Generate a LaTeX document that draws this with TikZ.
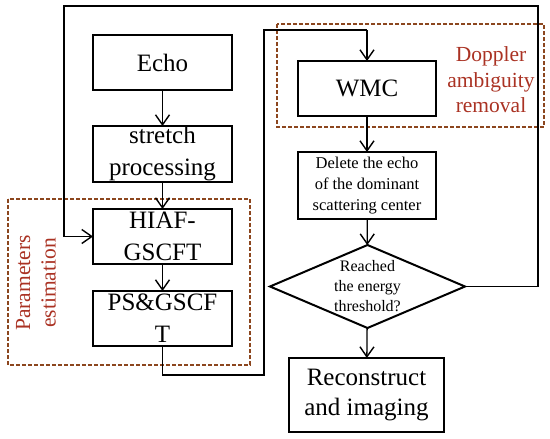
\documentclass[tikz,border=0pt]{standalone}
\usepackage{fontspec}
\setmainfont{Liberation Serif}
\usetikzlibrary{arrows.meta,shapes.geometric}
\definecolor{dashbrown}{RGB}{140,70,30}
\definecolor{labred}{RGB}{170,50,35}
\begin{document}
\begin{tikzpicture}[x=1pt,y=-1pt,
  box/.style={draw,line width=2pt,inner sep=0pt,outer sep=0pt,align=center},
  big/.style={font=\fontsize{25}{32}\selectfont},
  small/.style={font=\fontsize{16.5}{21}\selectfont},
  conn/.style={line width=1.3pt,-{Straight Barb[length=10pt,width=14pt,line width=1.4pt]}},
  loopline/.style={line width=1.3pt},
  grp/.style={draw=dashbrown,dashed,line width=1.2pt,dash pattern=on 4pt off 2pt},
  lab/.style={text=labred,align=center,font=\fontsize{21.5}{25.5}\selectfont}]
\useasboundingbox (0,0) rectangle (550,439);
% groups
\draw[grp] (8,199) rectangle (250,365);
\draw[grp] (277,24) rectangle (544,127);
\node[lab,rotate=90] (plab) at (36,283) {Parameters\\estimation};
\node[lab] (dlab) at (491,80) {Doppler\\ambiguity\\removal};
% left column
\node[box,big,minimum width=139pt,minimum height=55pt] (echo) at (162.5,62.5) {Echo};
\node[box,big,minimum width=139pt,minimum height=56pt] (stretch) at (162.5,154) {stretch\\processing};
\node[box,big,minimum width=139pt,minimum height=55pt] (hiaf) at (162.5,236.5) {HIAF-\\GSCFT};
\node[box,big,minimum width=139pt,minimum height=55pt] (ps) at (162.5,318.5) {PS\&GSCF\\T};
% right column
\node[box,big,minimum width=138pt,minimum height=55pt] (wmc) at (367,88.5) {WMC};
\node[box,small,minimum width=138pt,minimum height=67pt] (del) at (367,185.5) {Delete the echo\\of the dominant\\scattering center};
\node[draw,diamond,line width=2pt,inner sep=0pt,outer sep=0pt,aspect=2.35,minimum width=195pt,minimum height=83pt,align=center,font=\fontsize{16}{20}\selectfont] (dia) at (367.5,286.5) {Reached\\the energy\\threshold?};
\node[box,minimum width=155pt,minimum height=74pt,font=\fontsize{25}{30}\selectfont] (rec) at (366.5,395) {Reconstruct\\and imaging};
% coordinates for loops
\coordinate (a1) at (538,286.5);
\coordinate (a2) at (538,6);
\coordinate (a3) at (64,6);
\coordinate (a4) at (64,236.5);
\coordinate (b1) at (162.5,375);
\coordinate (b2) at (264,375);
\coordinate (b3) at (264,30);
\coordinate (b4) at (367,30);
% connectors
\draw[conn] (echo) -- (stretch);
\draw[conn] (stretch) -- (hiaf);
\draw[conn] (hiaf) -- (ps);
\draw[conn] (wmc) -- (del);
\draw[conn] (del) -- (dia);
\draw[conn] (dia) -- (rec);
\draw[loopline] (dia.east) -- (a1) -- (a2) -- (a3) -- (a4);
\draw[conn] (a4) -- (hiaf.west);
\draw[loopline] (ps.south) -- (b1) -- (b2) -- (b3) -- (b4);
\draw[conn] (b4) -- (wmc.north);
\end{tikzpicture}
\end{document}
